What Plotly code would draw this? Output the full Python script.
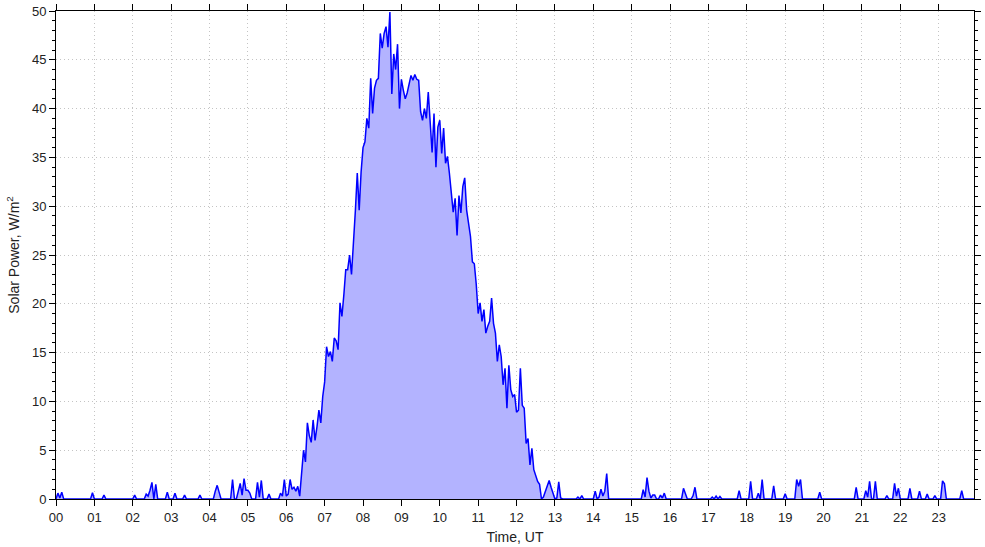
import plotly.graph_objects as go

# Solar power, W/m^2, sampled every 3 minutes; one row per UT hour (20 samples each)
step_minutes = 3
power_by_hour = [
    [0, 0.6, 0.1, 0.7, 0, 0, 0, 0, 0, 0, 0, 0, 0, 0, 0, 0, 0, 0, 0, 0.65],             # 00
    [0, 0, 0, 0, 0, 0.4, 0, 0, 0, 0, 0, 0, 0, 0, 0, 0, 0, 0, 0, 0],                     # 01
    [0, 0.4, 0, 0, 0, 0, 0, 0.5, 0.3, 0.9, 1.7, 0, 1.5, 0, 0, 0, 0, 0, 0.7, 0],          # 02
    [0, 0, 0.6, 0, 0, 0, 0, 0.4, 0, 0, 0, 0, 0, 0, 0, 0.4, 0, 0, 0, 0],                 # 03
    [0, 0, 0, 0.8, 1.4, 0.7, 0, 0, 0, 0, 0, 0, 2.0, 0, 0, 0.9, 1.6, 0.4, 2.1, 0.9],       # 04
    [0.9, 0.6, 0, 0, 0, 1.7, 0.2, 1.9, 0, 0, 0, 0.5, 0, 0, 0, 0, 0, 0.6, 0.3, 2.0],       # 05
    [0.3, 0.5, 2.0, 1.0, 1.2, 0.8, 1.3, 0.3, 2.5, 5.0, 3.8, 7.8, 6.5, 5.8, 8.1, 6.0,
     7.4, 9.1, 7.8, 10.5],                                                               # 06
    [12.0, 15.6, 14.6, 15.1, 14.1, 16.5, 16.2, 15.3, 20.1, 18.7, 20.9, 23.5, 23.5, 25.0,
     23.0, 25.9, 29.5, 33.4, 29.6, 33.5],                                                # 07
    [36.0, 36.6, 39.0, 38.0, 43.1, 39.5, 42.1, 42.9, 43.1, 47.7, 46.2, 47.7, 48.4, 46.3,
     49.9, 41.5, 45.6, 44.0, 46.6, 40.0],                                                # 08
    [43.0, 41.9, 41.0, 41.6, 42.5, 43.4, 42.9, 43.5, 43.0, 42.9, 39.7, 38.8, 40.0, 39.0,
     41.7, 39.0, 35.5, 39.5, 34.0, 38.1],                                                # 09
    [38.8, 35.4, 38.0, 34.4, 35.1, 33.4, 31.0, 29.4, 30.8, 27.0, 31.1, 29.3, 32.0, 32.9,
     29.6, 28.0, 26.9, 24.3, 24.1, 22.0],                                                # 10
    [19.0, 20.1, 18.2, 19.4, 17.0, 17.7, 18.2, 20.6, 18.0, 17.0, 14.1, 15.8, 14.6, 11.7,
     13.4, 9.3, 13.7, 11.2, 10.5, 10.7],                                                 # 11
    [8.9, 9.1, 13.4, 9.6, 9.3, 5.7, 6.2, 3.5, 5.2, 3.0, 2.3, 1.8, 1.5, 0.0, 0.2, 0.75,
     1.3, 1.9, 1.2, 0.5],                                                                # 12
    [0, 0.1, 1.75, 0.1, 0, 0, 0, 0, 0, 0, 0, 0, 0.2, 0, 0.35, 0, 0, 0, 0, 0],             # 13
    [0, 0.8, 0, 0.2, 1.0, 0.3, 0.8, 2.6, 0, 0, 0, 0, 0, 0, 0, 0, 0, 0, 0, 0],             # 14
    [0, 0, 0, 0, 0, 0, 0.95, 0.2, 2.2, 0.8, 0.1, 0.4, 0.4, 0, 0, 0.4, 0.1, 0.6, 0, 0],    # 15
    [0, 0, 0, 0, 0, 0, 0, 1.1, 0.6, 0, 0, 0, 0.35, 1.2, 0, 0, 0, 0, 0, 0],                # 16
    [0, 0, 0.2, 0, 0.3, 0, 0.25, 0, 0, 0, 0, 0, 0, 0, 0, 0, 0.85, 0, 0, 0],               # 17
    [0, 0, 1.8, 0, 0, 0, 0.6, 0, 2.0, 0, 0, 0, 0, 0, 1.35, 0, 0, 0, 0, 0],                # 18
    [0.55, 0, 0, 0, 0, 0, 2.0, 1.3, 2.0, 0, 0, 0, 0, 0, 0, 0, 0, 0, 0.7, 0],              # 19
    [0, 0, 0, 0, 0, 0, 0, 0, 0, 0, 0, 0, 0, 0, 0, 0, 0, 1.2, 0, 0],                       # 20
    [0, 0, 0.85, 0.2, 1.8, 0, 0, 1.8, 0, 0, 0, 0, 0, 0.35, 0, 0, 0, 1.6, 0.3, 1.1],       # 21
    [0, 0, 0, 0, 0, 1.1, 0, 0, 0, 0, 0.8, 0, 0, 0, 0.5, 0, 0, 0, 0.35, 0],                # 22
    [0, 0, 1.85, 1.55, 0, 0, 0, 0, 0, 0, 0, 0, 0.85, 0, 0, 0, 0, 0, 0, 0],                # 23
]

hour_ticks = list(range(24))
hour_labels = [f"{h:02d}" for h in hour_ticks]
y_ticks = list(range(0, 51, 5))

power = [v for row in power_by_hour for v in row]
hours = [i * step_minutes / 60 for i in range(len(power))]

fig = go.Figure()
fig.add_trace(go.Scatter(
    x=hours, y=power, mode="lines",
    line=dict(color="#0000ff", width=1.5),
    fill="tozeroy", fillcolor="#b3b3ff",
    hoverinfo="skip", showlegend=False,
))

font_family = "Liberation Sans, Arial, sans-serif"
grid_style = dict(showgrid=True, gridcolor="#c4c4c4", griddash="1px,3px", gridwidth=1)
fig.update_layout(
    width=985, height=547,
    margin=dict(l=56, r=11, t=11, b=48, autoexpand=False),
    paper_bgcolor="white", plot_bgcolor="white",
    font=dict(family=font_family, size=13, color="#222222"),
)
fig.update_xaxes(
    range=[0, 23.92], automargin=False,
    tickmode="array", tickvals=hour_ticks, ticktext=hour_labels,
    ticks="outside", ticklen=6, tickwidth=1, tickcolor="black",
    showline=True, linecolor="black", linewidth=1, mirror="ticks",
    zeroline=False,
    title=dict(text="Time, UT", font=dict(size=14), standoff=8),
    tickfont=dict(size=13),
    **grid_style,
)
fig.update_yaxes(
    range=[0, 50], automargin=False,
    tickmode="array", tickvals=y_ticks,
    ticks="outside", ticklen=6, tickwidth=1, tickcolor="black",
    minor=dict(ticks="outside", ticklen=3, dtick=1, tickcolor="black", showgrid=False),
    showline=True, linecolor="black", linewidth=1, mirror="ticks",
    zeroline=False, ticklabeloverflow="allow",
    title=dict(text="Solar Power, W/m<sup>2</sup>", font=dict(size=14), standoff=9),
    tickfont=dict(size=13),
    **grid_style,
)

# remove the default page margin so the 985x547 figure fills the window exactly
fig.write_html(
    "out.html",
    config={"displayModeBar": False},
    post_script="document.body.style.margin='0';document.body.style.padding='0';",
)
